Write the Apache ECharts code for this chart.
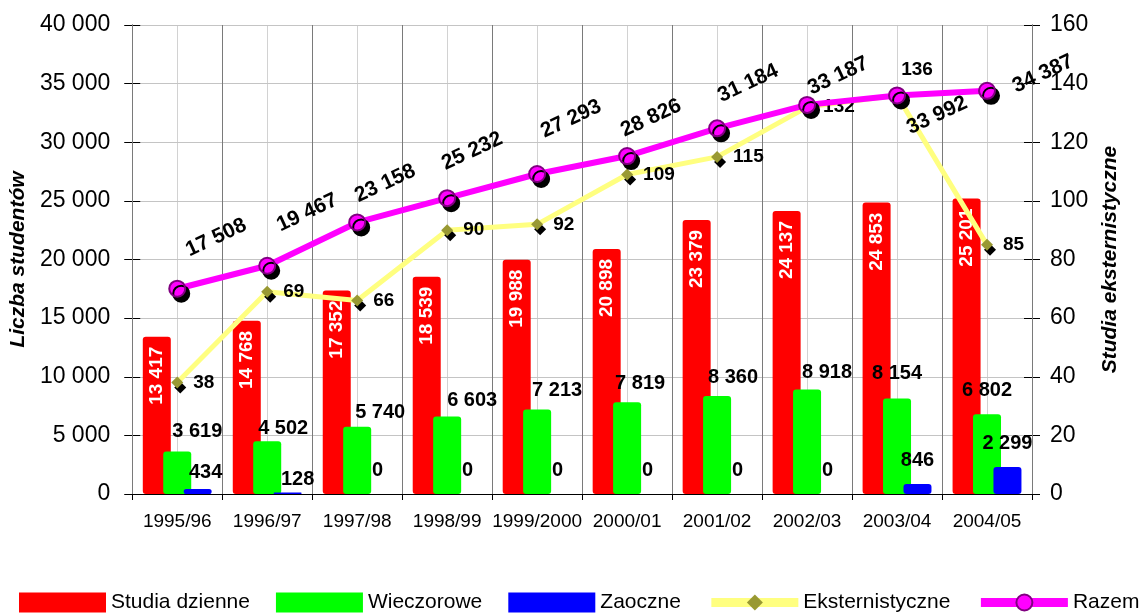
<!DOCTYPE html>
<html>
<head>
<meta charset="utf-8">
<script src="https://cdn.jsdelivr.net/npm/echarts@6/dist/echarts.min.js"></script>
<style>
html,body{margin:0;padding:0;background:#fff;}
#chart{width:1144px;height:616px;}
</style>
</head>
<body>
<div id="chart"></div>
<script>
const categories = ['1995/96','1996/97','1997/98','1998/99','1999/2000','2000/01','2001/02','2002/03','2003/04','2004/05'];
const dzienne = [13417,14768,17352,18539,19988,20898,23379,24137,24853,25201];
const wieczorowe = [3619,4502,5740,6603,7213,7819,8360,8918,8154,6802];
const zaoczne = [434,128,0,0,0,0,0,0,846,2299];
const eksternistyczne = [38,69,66,90,92,109,115,132,136,85];
const razem = [17508,19467,23158,25232,27293,28826,31184,33187,33992,34387];

// label placement (pixels), kept separate from the data
const greenShift = [[20,-4],[16,3],[23,2],[25,0],[20,-3],[13,-3],[16,-2],[20,-1],[0,-9],[0,-8]];
const blueShift = [[8,0],[10,3],[0,-8],[0,-8],[0,-8],[0,-8],[0,-8],[0,-8],[0,-8],[0,-8]];
const razemShift = [[39,-51],[40,-53],[28,-39],[25,-47],[34,-55],[24,-38],[31,-45],[31,-29],[40,20],[56,-17]];

const FONT = '"Liberation Sans", Arial, sans-serif';
const fmt = v => String(v).replace(/\B(?=(\d{3})+(?!\d))/g, ' ');
const ROT = 25;
function rotOffset(d){
  const t = ROT*Math.PI/180, c=Math.cos(t), s=Math.sin(t);
  return [d[0]*c - d[1]*s, d[0]*s + d[1]*c];
}

const chart = echarts.init(document.getElementById('chart'));
const noShadow = {shadowColor:'rgba(0,0,0,0)',shadowOffsetX:0,shadowOffsetY:0};
const option = {
  animation:false,
  grid:{left:132,right:112,top:25,bottom:122},
  legend:{
    left:19, top:592, padding:0, width:1125, itemWidth:87, itemHeight:20, itemGap:26,
    textStyle:{fontFamily:FONT,fontSize:21,color:'#000'},
    data:[
      {name:'Studia dzienne',icon:'rect'},
      {name:'Wieczorowe',icon:'rect'},
      {name:'Zaoczne',icon:'rect'},
      {name:'Eksternistyczne',lineStyle:{width:9},itemStyle:noShadow},
      {name:'Razem',lineStyle:{width:9},itemStyle:noShadow}
    ]
  },
  xAxis:[
    {type:'category',data:categories,z:2,
     axisLine:{lineStyle:{color:'#000',width:1}},
     axisTick:{show:true,length:6,lineStyle:{color:'#000'}},
     axisLabel:{fontFamily:FONT,fontSize:19,color:'#000',margin:18,interval:0},
     splitLine:{show:true,lineStyle:{color:'#7a7a7a',width:1}}},
    {type:'value',min:0,max:10,interval:0.5,z:-1,position:'bottom',
     axisLine:{show:false},axisTick:{show:false},axisLabel:{show:false},
     splitLine:{show:true,lineStyle:{color:'#d2d2d2',width:1}}}
  ],
  yAxis:[
    {type:'value',min:0,max:40000,interval:5000,position:'left',
     name:'Liczba studentów',nameLocation:'middle',nameGap:96,nameRotate:90,
     nameTextStyle:{fontFamily:FONT,fontSize:21,fontWeight:'bold',fontStyle:'italic',color:'#000'},
     axisLine:{show:true,lineStyle:{color:'#000',width:1}},
     axisTick:{show:true,length:8,lineStyle:{color:'#000'}},
     axisLabel:{fontFamily:FONT,fontSize:23,color:'#000',margin:22,formatter:v=>fmt(v)},
     splitLine:{show:true,lineStyle:{color:'#c4c4c4',width:1}}},
    {type:'value',min:0,max:160,interval:20,position:'right',
     name:'Studia eksternistyczne',nameLocation:'middle',nameGap:55,nameRotate:90,
     nameTextStyle:{fontFamily:FONT,fontSize:21,fontWeight:'bold',fontStyle:'italic',color:'#000'},
     axisLine:{show:true,lineStyle:{color:'#000',width:1}},
     axisTick:{show:true,length:8,lineStyle:{color:'#000'}},
     axisLabel:{fontFamily:FONT,fontSize:23,color:'#000',margin:18},
     splitLine:{show:false}},
    {type:'value',min:0,max:40000,interval:5000,position:'left',
     axisLine:{show:false},axisLabel:{show:false},splitLine:{show:false},
     axisTick:{show:true,inside:true,length:8,lineStyle:{color:'#000'}}},
    {type:'value',min:0,max:160,interval:20,position:'right',
     axisLine:{show:false},axisLabel:{show:false},splitLine:{show:false},
     axisTick:{show:true,inside:true,length:8,lineStyle:{color:'#000'}}}
  ],
  series:[
    {name:'Studia dzienne',type:'bar',barWidth:28,barGap:'-27%',
     itemStyle:{color:'#ff0000',borderRadius:3},
     label:{show:true,position:'insideTop',rotate:90,align:'right',verticalAlign:'middle',distance:10,
            fontFamily:FONT,fontSize:19,fontWeight:'bold',color:'#fff',formatter:p=>fmt(p.value)},
     data:dzienne},
    {name:'Wieczorowe',type:'bar',barWidth:28,barGap:'-27%',
     itemStyle:{color:'#00ff00',borderRadius:3},
     label:{show:true,position:'top',distance:6,fontFamily:FONT,fontSize:20,fontWeight:'bold',color:'#000',
            formatter:p=>fmt(p.value)},
     data:wieczorowe.map((v,i)=>({value:v,label:{offset:greenShift[i]}}))},
    {name:'Zaoczne',type:'bar',barWidth:28,barGap:'-27%',
     itemStyle:{color:'#0000ff',borderRadius:3},
     label:{show:true,position:'top',distance:6,fontFamily:FONT,fontSize:20,fontWeight:'bold',color:'#000',
            formatter:p=>fmt(p.value)},
     data:zaoczne.map((v,i)=>({value:v,label:{offset:blueShift[i]}}))},
    {name:'Eksternistyczne',type:'line',yAxisIndex:1,z:3,
     lineStyle:{color:'#ffff80',width:5},
     symbol:'diamond',symbolSize:12,
     itemStyle:{color:'#999933',shadowColor:'#000',shadowBlur:0,shadowOffsetX:3,shadowOffsetY:5},
     label:{show:true,position:'right',distance:10,fontFamily:FONT,fontSize:19,fontWeight:'bold',color:'#000'},
     data:eksternistyczne.map((v,i)=> i===8 ? {value:v,label:{position:'inside',offset:[20,-26]}} : v)},
    {name:'Razem',type:'line',yAxisIndex:0,z:4,
     lineStyle:{color:'#ff00ff',width:6},
     symbol:'circle',symbolSize:16,
     itemStyle:{color:'#ff00ff',borderColor:'#800080',borderWidth:2,shadowColor:'#000',shadowBlur:0,shadowOffsetX:4,shadowOffsetY:5},
     label:{show:true,position:'inside',rotate:ROT,align:'center',verticalAlign:'middle',
            fontFamily:FONT,fontSize:21,fontWeight:'bold',color:'#000',formatter:p=>fmt(p.value)},
     data:razem.map((v,i)=>({value:v,label:{offset:rotOffset(razemShift[i])}}))}
  ]
};
chart.setOption(option);
</script>
</body>
</html>
